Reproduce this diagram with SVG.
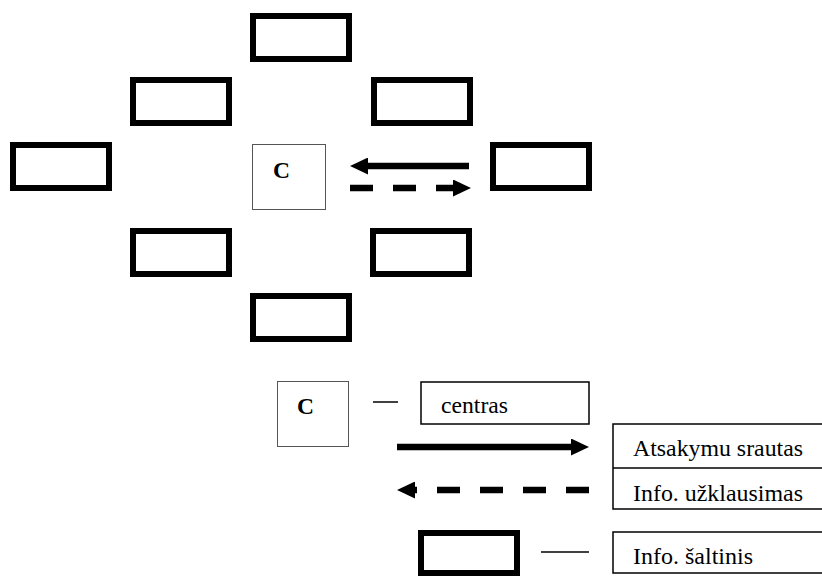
<svg xmlns="http://www.w3.org/2000/svg" width="822" height="576" viewBox="0 0 822 576">
<style>
.src{fill:#fff;stroke:#000;stroke-width:6}
.ctr{fill:#fff;stroke:#555;stroke-width:1}
.lbl{fill:#fff;stroke:#000;stroke-width:1.5}
.b{font-weight:bold}
.solid{stroke:#000;stroke-width:6.5;fill:none}
.dash{stroke:#000;stroke-width:6.5;fill:none;stroke-dasharray:23 20}
.thin{stroke:#000;stroke-width:1.5}
</style>
<defs>
<marker id="ah" markerUnits="userSpaceOnUse" markerWidth="18" markerHeight="17" refX="0" refY="8.5" orient="auto">
<path d="M0,0 L18,8.5 L0,17 Z" fill="#000"/>
</marker>
</defs>
<g id="src-top"><rect class="src" x="253" y="16" width="96" height="43"/></g>
<g id="src-ul"><rect class="src" x="133" y="80" width="96" height="43"/></g>
<g id="src-ur"><rect class="src" x="374" y="80" width="96" height="43"/></g>
<g id="src-left"><rect class="src" x="13" y="145" width="96" height="43"/></g>
<g id="src-right"><rect class="src" x="493" y="145" width="96" height="43"/></g>
<g id="src-ll"><rect class="src" x="133" y="231" width="96" height="43"/></g>
<g id="src-lr"><rect class="src" x="373" y="231" width="96" height="43"/></g>
<g id="src-bottom"><rect class="src" x="253" y="296" width="96" height="43"/></g>
<g id="center" font-family="Liberation Serif, serif" font-size="23">
<rect class="ctr" x="252.5" y="144.5" width="73" height="65"/>
<text class="b" x="273" y="178" textLength="17" lengthAdjust="spacingAndGlyphs">C</text>
</g>
<g id="connectors">
<line class="solid" x1="469" y1="166" x2="368" y2="166" marker-end="url(#ah)"/>
<line class="dash" x1="350" y1="188" x2="453" y2="188" marker-end="url(#ah)"/>
</g>
<g id="legend" font-family="Liberation Serif, serif" font-size="23">
<g id="leg-center">
<rect class="ctr" x="277.5" y="381.5" width="71" height="65"/>
<text class="b" x="297" y="414" textLength="17" lengthAdjust="spacingAndGlyphs">C</text>
<line class="thin" x1="373" y1="402" x2="398" y2="402"/>
<rect class="lbl" x="421" y="382" width="168" height="42"/>
<text x="441" y="413" textLength="67" lengthAdjust="spacingAndGlyphs">centras</text>
</g>
<g id="leg-arrows">
<line class="solid" x1="397" y1="447" x2="571" y2="447" marker-end="url(#ah)"/>
<line class="dash" x1="589" y1="490" x2="415" y2="490" marker-end="url(#ah)"/>
<rect class="lbl" x="613" y="424" width="210" height="85"/>
<line class="thin" x1="613" y1="468" x2="822" y2="468"/>
<text x="633" y="456" textLength="170" lengthAdjust="spacingAndGlyphs">Atsakymu srautas</text>
<text x="633" y="501" textLength="170" lengthAdjust="spacingAndGlyphs">Info. užklausimas</text>
</g>
<g id="leg-source">
<rect class="src" x="421" y="533" width="96" height="40"/>
<line class="thin" x1="541" y1="552" x2="589" y2="552"/>
<rect class="lbl" x="613" y="532" width="210" height="41"/>
<text x="633" y="564" textLength="120" lengthAdjust="spacingAndGlyphs">Info. šaltinis</text>
</g>
</g>
</svg>
